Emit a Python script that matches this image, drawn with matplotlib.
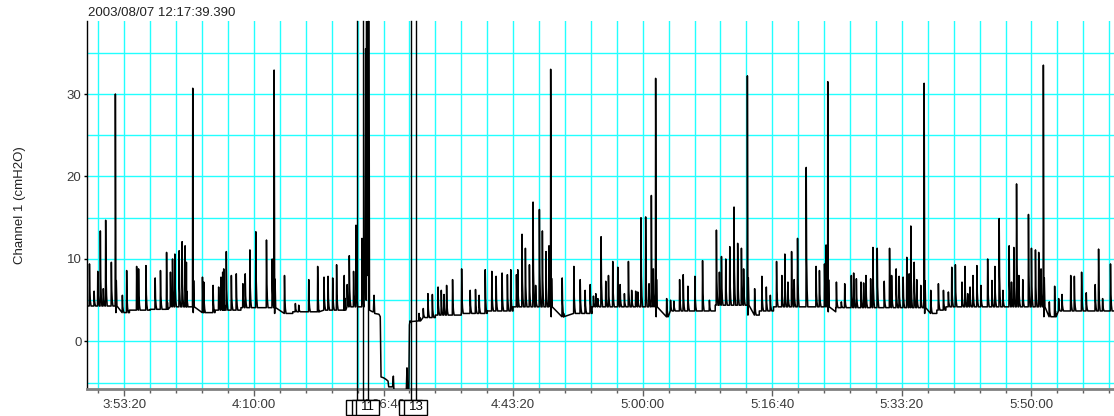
import numpy as np
import matplotlib
matplotlib.use("Agg")
import matplotlib.pyplot as plt
from matplotlib.ticker import FixedLocator, FuncFormatter, MultipleLocator
from matplotlib.patches import Rectangle
import matplotlib.transforms as mtransforms

plt.rcParams['font.family'] = ['Liberation Sans', 'DejaVu Sans']

# ---------------- data (time in seconds of day) ----------------
title_text = "2003/08/07 12:17:39.390"
y_label = "Channel 1 (cmH2O)"

# baseline segments: start time and level (nan = raw gap segment)
seg_t = [13710, 13935, 14040, 14200, 14330, 14532, 14700, 14900, 15160, 15300,
         15500, 15700, 15850, 16205, 16280, 16400, 16600, 16800, 17000, 17294,
         17390, 17610, 18104, 18190, 18560, 18812, 18900, 19010, 19432, 19490,
         20176, 20270, 20340, 21096, 21185, 21640]
seg_v = [4.3, 3.5, 3.8, 3.9, 4.2, 3.5, 3.8, 4.1, 3.4, 3.6,
         3.8, 4.2, np.nan, 2.5, 2.9, 3.2, 3.4, 3.7, 4.2, 3.0,
         3.4, 4.2, 3.0, 3.7, 4.4, 3.2, 3.7, 4.2, 3.6, 4.1,
         3.4, 3.8, 4.2, 3.0, 3.7, 3.7]

# spikes: time and peak value
spike_t = [13731, 13767, 13795, 13815, 13838, 13856, 13900, 13931, 13985, 14018,
           14095, 14110, 14167, 14238, 14279, 14326, 14356, 14372, 14390, 14423,
           14446, 14469, 14479, 14528, 14603, 14613, 14685, 14728, 14746, 14759,
           14767, 14787, 14826, 14864, 14915, 14933, 14969, 15015, 15097, 15141,
           15156, 15236, 15320, 15346, 15423, 15492, 15541, 15572, 15608, 15638,
           15697, 15720, 15736, 15769, 15788, 15834,
           16274, 16307, 16343,
           16377, 16421, 16446, 16467, 16487, 16533, 16603, 16669, 16710, 16738,
           16785, 16836, 16869, 16915, 16956, 16982, 17026, 17036, 17069, 17095,
           17126, 17154, 17174, 17203, 17226, 17254, 17277, 17290, 17379, 17469,
           17518, 17556, 17595, 17620, 17638, 17654, 17679,
           17715, 17736, 17769, 17808, 17826, 17859, 17890, 17915, 17946, 17962,
           17987, 18023, 18049, 18067, 18082, 18100, 18185, 18215, 18241, 18285,
           18313, 18349, 18403, 18462, 18515, 18569, 18592, 18608, 18641, 18672,
           18705, 18733, 18762, 18779, 18808, 18864, 18920, 18954, 18985,
           19033, 19074, 19097, 19121, 19149, 19169, 19195, 19262, 19338, 19364,
           19403, 19415, 19428, 19495, 19533, 19559, 19610, 19628, 19649, 19685,
           19705, 19723, 19759, 19777, 19810, 19864, 19905, 19921, 19956, 19979,
           20010, 20038, 20056, 20069, 20095, 20115, 20146, 20172, 20223, 20282,
           20321,
           20359, 20385, 20413, 20464, 20487, 20508, 20526, 20549, 20579, 20610,
           20662, 20695, 20718, 20751, 20780, 20828, 20846, 20864, 20885, 20903,
           20933, 20977, 21000, 21031, 21056, 21074, 21092, 21138, 21179, 21210,
           21236, 21303, 21331, 21387, 21423, 21492, 21518, 21549, 21610]
spike_v = [9.4, 6.1, 8.5, 13.4, 6.4, 14.7, 9.6, 30.0, 5.6, 8.6,
           9.1, 8.8, 9.2, 7.7, 8.6, 10.8, 8.4, 10.0, 10.6, 11.0,
           12.1, 11.6, 9.6, 30.7, 7.8, 7.2, 6.8, 6.6, 7.8, 8.4,
           8.8, 10.9, 8.0, 8.2, 7.0, 8.2, 11.1, 13.3, 12.3, 10.0,
           32.9, 8.0, 4.6, 4.4, 7.5, 9.1, 7.8, 7.9, 7.7, 9.3,
           8.0, 6.9, 10.4, 8.5, 14.1, 12.5,
           3.4, 4.0, 5.8,
           5.7, 6.6, 6.2, 5.7, 6.8, 7.5, 8.8, 6.2, 6.3, 5.6,
           8.7, 8.5, 7.9, 8.3, 8.1, 8.7, 8.1, 8.7, 13.0, 11.3,
           9.3, 16.9, 6.8, 16.0, 13.4, 10.9, 11.6, 33.0, 7.7, 9.1,
           7.5, 6.2, 6.9, 5.5, 5.8, 5.2, 12.7,
           7.3, 8.0, 9.7, 9.0, 6.9, 5.8, 9.7, 6.2, 6.1, 6.0,
           15.0, 15.1, 7.0, 17.7, 8.8, 31.9, 5.2, 5.0, 4.9, 7.5,
           8.1, 6.7, 7.9, 9.8, 5.0, 13.5, 8.4, 10.3, 10.0, 11.5,
           16.3, 11.9, 11.3, 8.8, 32.2, 6.4, 7.9, 6.6, 5.6,
           9.7, 8.0, 10.6, 7.2, 10.9, 7.5, 12.5, 21.1, 9.1, 8.6,
           9.4, 11.7, 31.5, 7.2, 4.8, 7.0, 8.0, 8.3, 7.6, 7.2,
           7.1, 8.0, 7.6, 11.4, 11.3, 7.3, 11.3, 8.0, 8.8, 7.9,
           7.8, 10.2, 8.2, 14.0, 9.6, 7.5, 6.8, 31.3, 6.2, 7.0,
           6.2,
           6.0, 9.0, 9.3, 7.2, 9.1, 5.8, 6.6, 8.0, 9.2, 6.8,
           10.0, 7.4, 9.1, 14.9, 6.2, 11.6, 7.2, 11.4, 19.1, 8.0,
           7.5, 15.4, 11.3, 11.1, 10.8, 8.8, 33.5, 4.8, 6.7, 5.2,
           5.7, 8.0, 7.9, 8.4, 5.9, 6.9, 11.2, 5.2, 9.4]

# raw trace across the disconnection (off-scale values run past the axes)
gap_t = [15850, 15855, 15862, 15866, 15870, 15876, 15882, 15888, 15892, 15915,
         15922, 15927, 15932, 15965, 15975, 15981, 16000, 16020, 16035, 16040,
         16070, 16076, 16082, 16175, 16181, 16186, 16195, 16200, 16205]
gap_v = [4.5, 10.0, 35.5, 5.0, 60.0, 8.0, 60.0, 40.0, 3.8, 3.6,
         3.6, 5.6, 3.4, 3.3, 3.0, -4.3, -4.4, -4.6, -4.8, -5.5,
         -5.5, -4.2, -6.5, -6.5, -3.2, -6.5, -6.0, 2.0, 2.4]

# event markers (labels 9, 10 and 12 are hidden under the following boxes)
event_t = [15799, 15842, 15880, 16212, 16250]
event_labels = ["", "", "11", "", "13"]

# axis ticks
xtick_major = [14000, 15000, 16000, 17000, 18000, 19000, 20000, 21000]
ytick_labels = [0, 10, 20, 30]

# ---------------- build trace ----------------
seg_t_a = np.array(seg_t, float)
seg_v_a = np.array(seg_v, float)
pts = []
for i in range(len(seg_t) - 1):
    if not np.isnan(seg_v_a[i]):
        pts.append((seg_t_a[i], seg_v_a[i]))
        pts.append((seg_t_a[i + 1] - 0.5, seg_v_a[i]))
for t, v in zip(spike_t, spike_v):
    idx = np.searchsorted(seg_t_a, t, side='right') - 1
    foot = seg_v_a[idx]
    amp = v - foot
    pts.append((t - 2, foot))
    pts.append((t, v))
    pts.append((t + 3, foot + 0.35 * amp))
    pts.append((t + 7, foot + 0.12 * amp))
    pts.append((t + 12, foot))
for t, v in zip(gap_t, gap_v):
    pts.append((t, v))
pts.sort(key=lambda p: p[0])
tx = np.array([p[0] for p in pts])
vy = np.array([p[1] for p in pts])

# ---------------- figure ----------------
W, H = 1114, 416
fig = plt.figure(figsize=(W / 100, H / 100), dpi=100)
ax_left, ax_right, ax_top, ax_bot = 87, 1114, 21, 389
ax = fig.add_axes([ax_left / W, (H - ax_bot) / H, (ax_right - ax_left) / W, (ax_bot - ax_top) / H])

xmin, xmax = 13712, 21637
ymin, ymax = -5.76, 38.85
ax.set_xlim(xmin, xmax)
ax.set_ylim(ymin, ymax)

grid_c = '#22ffff'
for gx in np.arange(13800, xmax, 200):
    ax.axvline(gx, color=grid_c, lw=1.0, zorder=0)
for gy in np.arange(-5, 40, 5):
    ax.axhline(gy, color=grid_c, lw=1.0, zorder=0)

ax.plot(tx, vy, color='black', lw=1.1, zorder=3)

# spines
for s in ['top', 'right']:
    ax.spines[s].set_visible(False)
ax.spines['left'].set_color('black')
ax.spines['left'].set_linewidth(1.0)
ax.spines['bottom'].set_color('#808080')
ax.spines['bottom'].set_linewidth(2.0)


def fmt_time(x, pos=None):
    x = int(round(x))
    h = x // 3600
    m = (x % 3600) // 60
    s = x % 60
    return f"{h}:{m:02d}:{s:02d}"


ax.xaxis.set_major_locator(FixedLocator(xtick_major))
ax.xaxis.set_major_formatter(FuncFormatter(fmt_time))
ax.xaxis.set_minor_locator(MultipleLocator(200))
ax.tick_params(axis='x', which='major', length=5, width=1, color='#606060',
               labelsize=9.5, labelcolor='#3a3a3a', pad=2)
ax.tick_params(axis='x', which='minor', length=3, width=1, color='#606060')
ax.yaxis.set_major_locator(FixedLocator(ytick_labels))
ax.tick_params(axis='y', which='major', length=2, width=1, color='black',
               labelsize=9.5, labelcolor='#3a3a3a', pad=2)

fig.text(20 / W, 1 - 205 / H, y_label, rotation=90, ha='center', va='center',
         fontsize=9.5, color='#222222')
fig.text(88 / W, 1 - 13 / H, title_text, ha='left', va='center',
         fontsize=9.5, color='#222222')

# event markers
trans = mtransforms.blended_transform_factory(ax.transData, ax.transAxes)
box_top = (ax_bot - 400) / (ax_bot - ax_top)
box_bot = (ax_bot - 414.5) / (ax_bot - ax_top)
box_w = 23 * (xmax - xmin) / (ax_right - ax_left)
for i, (et, lab) in enumerate(zip(event_t, event_labels)):
    ax.plot([et, et], [box_top, 1.0], transform=trans, color='black', lw=1.0,
            clip_on=False, zorder=5 + i * 2)
    r = Rectangle((et - box_w / 2, box_bot), box_w, box_top - box_bot, transform=trans,
                  facecolor='white', edgecolor='black', lw=1.0, clip_on=False,
                  zorder=6 + i * 2)
    ax.add_patch(r)
    if lab:
        ax.text(et, (box_top + box_bot) / 2, lab, transform=trans, ha='center', va='center',
                fontsize=9.5, color='black', clip_on=False, zorder=6 + i * 2)

fig.savefig('out.png', dpi=100)
